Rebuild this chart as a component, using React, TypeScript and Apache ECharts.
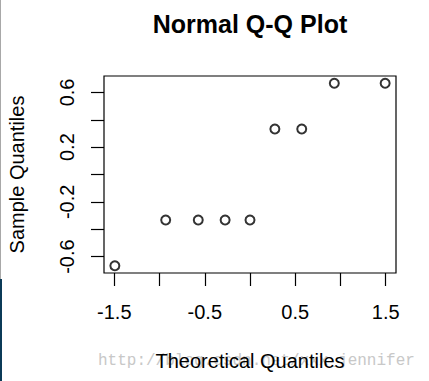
import React, { useEffect, useRef } from "react";
import * as echarts from "echarts";

const titleText = "Normal Q-Q Plot";
const xAxisName = "Theoretical Quantiles";
const yAxisName = "Sample Quantiles";
const watermark = "http://blog.csdn.net/xxx_jennifer";

const theoretical = [-1.494, -0.932, -0.572, -0.275, 0, 0.275, 0.572, 0.932, 1.494];
const sample = [-0.667, -0.333, -0.333, -0.333, -0.333, 0.333, 0.333, 0.667, 0.667];

const xTicks = [-1.5, -1, -0.5, 0, 0.5, 1, 1.5];
const xLabels = [-1.5, -0.5, 0.5, 1.5];
const yTicks = [-0.6, -0.4, -0.2, 0, 0.2, 0.4, 0.6];
const yLabels = [-0.6, -0.2, 0.2, 0.6];

const FONT = '"Liberation Sans", Arial, sans-serif';

export default function App() {
  const ref = useRef<HTMLDivElement>(null);
  useEffect(() => {
    if (!ref.current) return;
    const chart = echarts.init(ref.current, null, { renderer: "svg" });
    const points = theoretical.map((t, i) => [t, sample[i]]);
    chart.setOption({
      animation: false,
      backgroundColor: "#ffffff",
      grid: {
        left: 104,
        right: 33,
        top: 76,
        bottom: 108,
        show: true,
        borderColor: "#000",
        borderWidth: 1.2,
        backgroundColor: "transparent",
        containLabel: false,
        outerBoundsMode: "none",
      },
      xAxis: {
        type: "value",
        min: -1.614,
        max: 1.614,
        name: xAxisName,
        nameLocation: "middle",
        nameGap: 78,
        nameTextStyle: { color: "#000", fontSize: 20, fontFamily: FONT },
        axisLine: { show: false, onZero: false },
        splitLine: { show: false },
        axisTick: {
          show: true,
          inside: false,
          length: 13,
          customValues: xTicks,
          lineStyle: { color: "#000", width: 1.2 },
        },
        axisLabel: {
          show: true,
          customValues: xLabels,
          margin: 29,
          color: "#000",
          fontSize: 20,
          fontFamily: FONT,
          formatter: (v: number) => String(v),
        },
      },
      yAxis: {
        type: "value",
        min: -0.72,
        max: 0.72,
        name: yAxisName,
        nameLocation: "middle",
        nameGap: 77,
        nameTextStyle: { color: "#000", fontSize: 20, fontFamily: FONT },
        axisLine: { show: false, onZero: false },
        splitLine: { show: false },
        axisTick: {
          show: true,
          inside: false,
          length: 13,
          customValues: yTicks,
          lineStyle: { color: "#000", width: 1.2 },
        },
        axisLabel: {
          show: true,
          customValues: yLabels,
          rotate: 90,
          margin: 27,
          color: "#000",
          fontSize: 20,
          fontFamily: FONT,
          formatter: (v: number) => String(v),
        },
      },
      series: [
        {
          type: "scatter",
          data: points,
          symbol: "emptyCircle",
          symbolSize: 9,
          itemStyle: { color: "#000", borderColor: "#000", borderWidth: 1.2 },
          emphasis: { disabled: true },
        },
      ],
      graphic: [
        {
          type: "text",
          x: 250,
          y: 24,
          style: {
            text: titleText,
            textAlign: "center",
            textVerticalAlign: "middle",
            font: `bold 25px ${FONT}`,
            fill: "#000",
          },
        },
        {
          type: "text",
          x: 98,
          y: 361,
          z: -1,
          style: {
            text: watermark,
            textAlign: "left",
            textVerticalAlign: "middle",
            font: '16px "Liberation Mono", monospace',
            fill: "#c8c8c8",
          },
        },
        {
          type: "rect",
          shape: { x: 0, y: 0, width: 1, height: 279 },
          style: { fill: "#a8a8a8" },
        },
        {
          type: "rect",
          shape: { x: 0, y: 279, width: 2, height: 102 },
          style: { fill: "#0b3a57" },
        },
      ],
    });
    return () => chart.dispose();
  }, []);
  return (
    <div
      ref={ref}
      style={{ position: "fixed", left: 0, top: 0, width: 429, height: 381 }}
    />
  );
}
